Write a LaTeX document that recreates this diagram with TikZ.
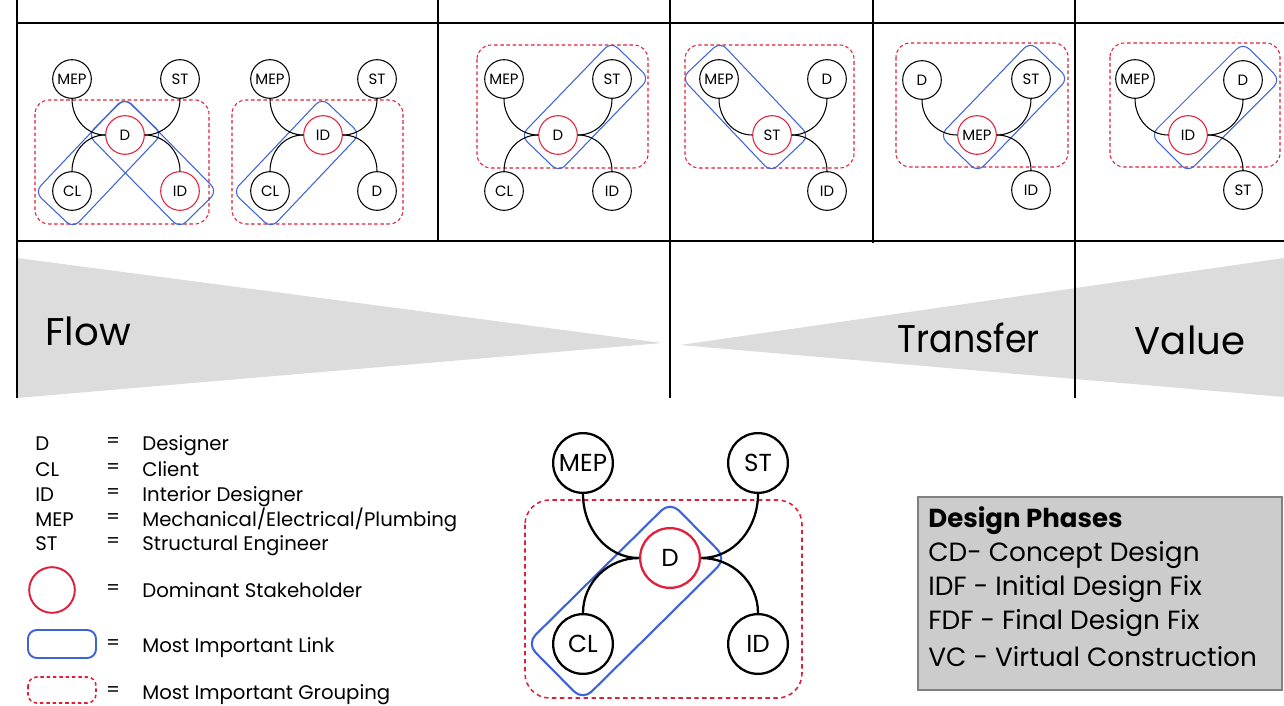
\documentclass[tikz,border=0pt]{standalone}
\usepackage{fontspec}
\setmainfont{Poppins}
\usetikzlibrary{calc,backgrounds}
\definecolor{dred}{HTML}{E0203A}
\definecolor{lblue}{HTML}{3E63D8}
\definecolor{wedge}{HTML}{DCDCDC}
\definecolor{boxg}{HTML}{CCCCCC}
\tikzset{
 gridline/.style={line width=1.1pt, black},
 sn/.style={circle, draw=black, line width=0.6pt, fill=white, minimum size=22pt, inner sep=0pt, font=\fontsize{8.5}{9}\selectfont},
 snd/.style={sn, draw=dred},
 bn/.style={circle, draw=black, line width=1.3pt, fill=white, minimum size=34pt, inner sep=0pt, font=\fontsize{14}{16}\selectfont},
 bnd/.style={bn, draw=dred},
 slink/.style={line width=0.6pt},
 blink/.style={line width=1.3pt},
 sgroup/.style={draw=dred, line width=0.6pt, dash pattern=on 2pt off 1.5pt, rounded corners=8pt},
 bgroup/.style={draw=dred, line width=0.9pt, dash pattern=on 2.5pt off 2pt, rounded corners=14pt},
 sblue/.style={draw=lblue, line width=0.6pt, rounded corners=5pt},
 bblue/.style={draw=lblue, line width=1.2pt, rounded corners=7pt},
 legtext/.style={anchor=base west, font=\fontsize{11.2}{12}\selectfont, inner sep=0pt},
 eqtext/.style={font=\fontsize{11}{12}\selectfont, inner sep=0pt},
 phasetext/.style={anchor=west, font=\fontsize{15}{17}\selectfont, inner sep=0pt},
 bigword/.style={font=\fontsize{22}{24}\selectfont, inner sep=0pt},
}
\newcommand\linkbox[4]{%
  \path let \p1=($(#3)-(#2)$), \n1={atan2(\y1,\x1)}, \n2={veclen(\x1,\y1)} in
    ($(#2)!0.5!(#3)$) node[#1, minimum width={\n2+2*#4}, minimum height={2*#4}, rotate=\n1, inner sep=0pt] {};
}
\begin{document}
\begin{tikzpicture}[x=0.02cm, y=-0.02cm]
\useasboundingbox (0,0) rectangle (1284,706);
% wedges
\fill[wedge] (17,258) -- (662,343) -- (17,398) -- cycle;
\fill[wedge] (1284,258) -- (680,345) -- (1284,397) -- cycle;
% grid
\draw[gridline] (17,0) -- (17,398);
\draw[gridline] (17,23) -- (1284,23);
\draw[gridline] (17,241) -- (1284,241);
\draw[gridline] (438,0) -- (438,241);
\draw[gridline] (670,0) -- (670,398);
\draw[gridline] (873,0) -- (873,243);
\draw[gridline] (1075,0) -- (1075,398);
% wedge labels
\node[bigword, anchor=west] (flow) at (45,331) {Flow};
\node[bigword, anchor=east, xscale=0.9] (transfer) at (1040,338) {Transfer};
\node[bigword] (value) at (1190,340) {Value};

% panel 1
\node[sn] (a1) at (72,79) {MEP};
\node[sn] (b1) at (180,79) {ST};
\node[snd] (c1) at (125,135) {D};
\node[sn] (d1) at (72,191) {CL};
\node[snd] (e1) at (180,191) {ID};
\draw[slink] (a1.south) to[out=-90,in=180] (c1.west);
\draw[slink] (b1.south) to[out=-90,in=0] (c1.east);
\draw[slink] (d1.north) to[out=90,in=180] (c1.west);
\draw[slink] (e1.north) to[out=90,in=0] (c1.east);
% panel 2
\node[sn] (a2) at (270,79) {MEP};
\node[sn] (b2) at (377,79) {ST};
\node[snd] (c2) at (323,135) {ID};
\node[sn] (d2) at (270,191) {CL};
\node[sn] (e2) at (377,191) {D};
\draw[slink] (a2.south) to[out=-90,in=180] (c2.west);
\draw[slink] (b2.south) to[out=-90,in=0] (c2.east);
\draw[slink] (d2.north) to[out=90,in=180] (c2.west);
\draw[slink] (e2.north) to[out=90,in=0] (c2.east);
% panel 3
\node[sn] (a3) at (504,79) {MEP};
\node[sn] (b3) at (612,79) {ST};
\node[snd] (c3) at (558,135) {D};
\node[sn] (d3) at (504,191) {CL};
\node[sn] (e3) at (612,191) {ID};
\draw[slink] (a3.south) to[out=-90,in=180] (c3.west);
\draw[slink] (b3.south) to[out=-90,in=0] (c3.east);
\draw[slink] (d3.north) to[out=90,in=180] (c3.west);
\draw[slink] (e3.north) to[out=90,in=0] (c3.east);
% panel 4
\node[sn] (a4) at (719,79) {MEP};
\node[sn] (b4) at (827,79) {D};
\node[snd] (c4) at (772,135) {ST};
\node[sn] (e4) at (827,191) {ID};
\draw[slink] (a4.south) to[out=-90,in=180] (c4.west);
\draw[slink] (b4.south) to[out=-90,in=0] (c4.east);
\draw[slink] (e4.north) to[out=90,in=0] (c4.east);
% panel 5
\node[sn] (a5) at (922,80) {D};
\node[sn] (b5) at (1031,79) {ST};
\node[snd] (c5) at (977,135) {MEP};
\node[sn] (e5) at (1031,190) {ID};
\draw[slink] (a5.south) to[out=-90,in=180] (c5.west);
\draw[slink] (b5.south) to[out=-90,in=0] (c5.east);
\draw[slink] (e5.north) to[out=90,in=0] (c5.east);
% panel 6
\node[sn] (a6) at (1135,79) {MEP};
\node[sn] (b6) at (1243,80) {D};
\node[snd] (c6) at (1188,135) {ID};
\node[sn] (e6) at (1243,190) {ST};
\draw[slink] (a6.south) to[out=-90,in=180] (c6.west);
\draw[slink] (b6.south) to[out=-90,in=0] (c6.east);
\draw[slink] (e6.north) to[out=90,in=0] (c6.east);
% big diagram
\node[bn] (bm) at (583,463) {MEP};
\node[bn] (bs) at (758,463) {ST};
\node[bnd] (bd) at (670,558) {D};
\node[bn] (bc) at (583,644) {CL};
\node[bn] (bi) at (758,644) {ID};
\draw[blink] (bm.south) to[out=-90,in=180] (bd.west);
\draw[blink] (bs.south) to[out=-90,in=0] (bd.east);
\draw[blink] (bc.north) to[out=90,in=180] (bd.west);
\draw[blink] (bi.north) to[out=90,in=0] (bd.east);

\begin{scope}[on background layer]
\draw[sgroup] (35,100) rectangle (209,224);
\draw[sgroup] (232,100) rectangle (403,224);
\draw[sgroup] (477,45) rectangle (648,168);
\draw[sgroup] (685,45) rectangle (854,168);
\draw[sgroup] (896,43) rectangle (1068,167);
\draw[sgroup] (1110,43) rectangle (1280,167);
\draw[bgroup] (525,500) rectangle (802,698);
\linkbox{sblue}{c1}{d1}{15}
\linkbox{sblue}{c1}{e1}{15}
\linkbox{sblue}{c2}{d2}{15}
\linkbox{sblue}{c3}{b3}{15}
\linkbox{sblue}{a4}{c4}{15}
\linkbox{sblue}{c5}{b5}{15}
\linkbox{sblue}{c6}{b6}{15}
\linkbox{bblue}{bd}{bc}{22.7}
\end{scope}

% legend
\node[legtext] (k1) at (35,450) {D};
\node[legtext] (k2) at (35,476) {CL};
\node[legtext] (k3) at (35,501) {ID};
\node[legtext] (k4) at (35,526) {MEP};
\node[legtext] (k5) at (35,550) {ST};
\node[eqtext] (q1) at (113,443) {=};
\node[eqtext] (q2) at (113,469) {=};
\node[eqtext] (q3) at (113,494) {=};
\node[eqtext] (q4) at (113,519) {=};
\node[eqtext] (q5) at (113,543) {=};
\node[legtext] (t1) at (142,450) {Designer};
\node[legtext] (t2) at (142,476) {Client};
\node[legtext] (t3) at (142,501) {Interior Designer};
\node[legtext] (t4) at (142,526) {Mechanical/Electrical/Plumbing};
\node[legtext] (t5) at (142,550) {Structural Engineer};
\node[circle, draw=dred, line width=1.1pt, minimum size=26pt, inner sep=0pt] (lc) at (52,590) {};
\draw[draw=lblue, line width=1.1pt, rounded corners=5pt] (28,630) rectangle (96,658);
\draw[draw=dred, line width=0.9pt, dash pattern=on 2pt off 1.6pt, rounded corners=5pt] (28,677) rectangle (96,703);
\node[eqtext] (q6) at (113,590) {=};
\node[eqtext] (q7) at (113,645) {=};
\node[eqtext] (q8) at (113,692) {=};
\node[legtext] (t6) at (142,597) {Dominant Stakeholder};
\node[legtext] (t7) at (142,652) {Most Important Link};
\node[legtext] (t8) at (142,699) {Most Important Grouping};

% design phases box
\draw[draw=gray, fill=boxg, line width=0.6pt] (918,497) rectangle (1282,690);
\node[phasetext, font=\fontsize{14.8}{16}\bfseries] (ph0) at (928,521) {Design Phases};
\node[phasetext] (ph1) at (928,555) {CD- Concept Design};
\node[phasetext] (ph2) at (928,589) {IDF - Initial Design Fix};
\node[phasetext] (ph3) at (928,623) {FDF - Final Design Fix};
\node[phasetext] (ph4) at (928,657) {VC - Virtual Construction};
\end{tikzpicture}
\end{document}
